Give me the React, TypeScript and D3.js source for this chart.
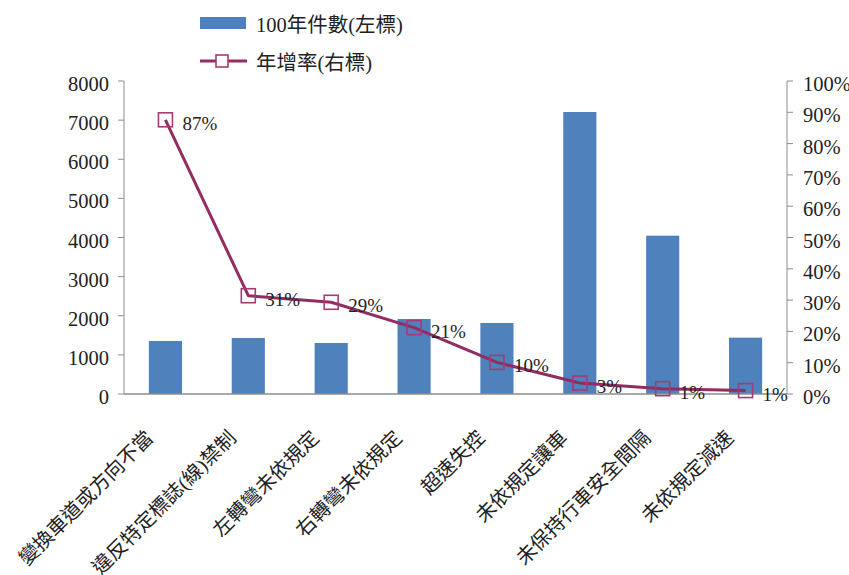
import React from "react";
import * as d3 from "d3";

const categories = [
  "變換車道或方向不當",
  "違反特定標誌(線)禁制",
  "左轉彎未依規定",
  "右轉彎未依規定",
  "超速失控",
  "未依規定讓車",
  "未保持行車安全間隔",
  "未依規定減速",
];
const counts = [1355, 1432, 1304, 1917, 1815, 7207, 4046, 1440];
const rates = [0.876, 0.314, 0.293, 0.212, 0.101, 0.035, 0.017, 0.011];
const rateLabels = ["87%", "31%", "29%", "21%", "10%", "3%", "1%", "1%"];
const leftTicks = [0, 1000, 2000, 3000, 4000, 5000, 6000, 7000, 8000];
const rightTicks = [0, 0.1, 0.2, 0.3, 0.4, 0.5, 0.6, 0.7, 0.8, 0.9, 1.0];
const legendBar = "100年件數(左標)";
const legendLine = "年增率(右標)";

const W = 849;
const H = 575;
const plotLeft = 124;
const plotRight = 787;
const plotTop = 81;
const plotBottom = 394;

const FONT = "'Liberation Serif', 'Noto Sans CJK TC', serif";
const BAR = "#4F81BD";
const LINE = "#922C61";
const MARK = "#A33C74";
const AXIS = "#8C8C8C";

export default function App() {
  const x = d3
    .scaleBand<number>()
    .domain(d3.range(categories.length))
    .range([plotLeft, plotRight])
    .paddingInner(0.6)
    .paddingOuter(0.3);
  const step = (plotRight - plotLeft) / categories.length;
  const cx = (i: number) => plotLeft + step * (i + 0.5);
  const yL = d3.scaleLinear().domain([0, 8000]).range([plotBottom, plotTop]);
  const yR = d3.scaleLinear().domain([0, 1]).range([plotBottom, plotTop]);

  const line = d3
    .line<number>()
    .x((_, i) => cx(i))
    .y((d) => yR(d))
    .curve(d3.curveLinear);

  const pct = d3.format(".0%");

  return (
    <svg
      width={W}
      height={H}
      style={{ position: "absolute", left: 0, top: 0, display: "block", background: "#fff" }}
      fontFamily={FONT}
    >
      {/* legend */}
      <rect x={200} y={17} width={46} height={12} fill={BAR} />
      <text x={256} y={32} fontSize={20.5} fill="#222">
        {legendBar}
      </text>
      <line x1={200} x2={247} y1={61} y2={61} stroke={LINE} strokeWidth={3} />
      <rect x={216} y={55} width={12} height={12} fill="#fff" stroke={MARK} strokeWidth={1.6} />
      <text x={256} y={70} fontSize={20.5} fill="#222">
        {legendLine}
      </text>

      {/* bars */}
      {counts.map((v, i) => (
        <rect
          key={"b" + i}
          x={x(i)}
          y={yL(v)}
          width={x.bandwidth()}
          height={plotBottom - yL(v)}
          fill={BAR}
        />
      ))}

      {/* axes */}
      <line x1={plotLeft} x2={plotLeft} y1={plotTop} y2={plotBottom} stroke={AXIS} strokeWidth={1} />
      <line x1={plotRight} x2={plotRight} y1={plotTop} y2={plotBottom} stroke={AXIS} strokeWidth={1} />
      <line x1={plotLeft} x2={plotRight} y1={plotBottom} y2={plotBottom} stroke={AXIS} strokeWidth={1.5} />
      {leftTicks.map((t) => (
        <g key={"l" + t}>
          <line x1={plotLeft - 6} x2={plotLeft} y1={yL(t)} y2={yL(t)} stroke={AXIS} />
          <text x={109} y={yL(t) + 10} fontSize={20.5} textAnchor="end" fill="#222">
            {t}
          </text>
        </g>
      ))}
      {rightTicks.map((t) => (
        <g key={"r" + t}>
          <line x1={plotRight} x2={plotRight + 6} y1={yR(t)} y2={yR(t)} stroke={AXIS} />
          <text x={803} y={yR(t) + 10} fontSize={20.5} textAnchor="start" fill="#222">
            {pct(t)}
          </text>
        </g>
      ))}

      {/* line */}
      <path d={line(rates) || ""} fill="none" stroke={LINE} strokeWidth={3} strokeLinejoin="round" />
      {rates.map((v, i) => (
        <rect
          key={"m" + i}
          x={cx(i) - 7}
          y={yR(v) - 7}
          width={14}
          height={14}
          fill="none"
          stroke={MARK}
          strokeWidth={1.6}
        />
      ))}
      {rates.map((v, i) => (
        <text key={"t" + i} x={cx(i) + 17} y={yR(v) + 10} fontSize={19} fill="#222">
          {rateLabels[i]}
        </text>
      ))}

      {/* x labels */}
      {categories.map((c, i) => (
        <text
          key={"x" + i}
          transform={`translate(${cx(i) - 11},${plotBottom + 45}) rotate(-45)`}
          fontSize={20}
          textAnchor="end"
          fill="#222"
        >
          {c}
        </text>
      ))}
    </svg>
  );
}
